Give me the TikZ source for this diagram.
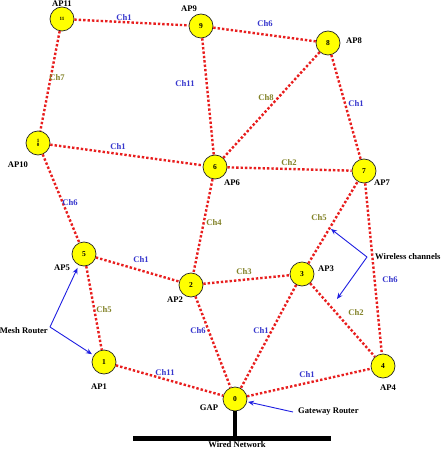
\documentclass[tikz,border=0pt]{standalone}
\usepackage{fontspec}
\setmainfont{Liberation Serif}
\usetikzlibrary{arrows.meta}
\definecolor{lnkred}{RGB}{232,30,30}
\definecolor{chblue}{RGB}{55,55,205}
\definecolor{cholive}{RGB}{130,130,40}
\definecolor{arrblue}{RGB}{30,30,225}
\definecolor{apyellow}{RGB}{255,255,0}
\begin{document}
\begin{tikzpicture}[x=1pt,y=-1pt,
  ap/.style={circle, fill=apyellow, draw=black!85, line width=0.7pt, minimum size=24pt, inner sep=0pt, font=\fontsize{7.5}{7.5}\selectfont\bfseries},
  link/.style={draw=lnkred, line width=2.4pt, dash pattern=on 2.4pt off 2pt},
  lbl/.style={font=\fontsize{8.6}{9}\selectfont\bfseries, inner sep=0pt},
  chb/.style={lbl, text=chblue},
  cho/.style={lbl, text=cholive},
  note/.style={draw=arrblue, line width=0.9pt, -{Stealth[length=6pt,width=5pt]}},
  wire/.style={draw=black, line width=5pt},
]
\useasboundingbox (0,0) rectangle (443,449);

% access points
\node[ap, font=\fontsize{5}{5}\selectfont\bfseries] (n11) at (62,19) {11};
\node[ap] (n9) at (201,26) {9};
\node[ap] (n8) at (328,43) {8};
\node[ap, font=\fontsize{5}{5}\selectfont\bfseries, align=center] (n10) at (38,143) {1\\[-1pt]0};
\node[ap] (n6) at (215,167) {6};
\node[ap] (n7) at (364,171) {7};
\node[ap] (n5) at (84,254) {5};
\node[ap] (n2) at (191,285) {2};
\node[ap] (n3) at (302,274) {3};
\node[ap] (n1) at (104,362) {1};
\node[ap] (n4) at (383,366) {4};
\node[ap] (n0) at (235,399) {0};

% links
\draw[link] (n11) -- (n9);
\draw[link] (n11) -- (n10);
\draw[link] (n10) -- (n6);
\draw[link] (n10) -- (n5);
\draw[link] (n9) -- (n6);
\draw[link] (n9) -- (n8);
\draw[link] (n8) -- (n6);
\draw[link] (n8) -- (n7);
\draw[link] (n6) -- (n7);
\draw[link] (n6) -- (n2);
\draw[link] (n5) -- (n2);
\draw[link] (n5) -- (n1);
\draw[link] (n2) -- (n3);
\draw[link] (n2) -- (n0);
\draw[link] (n1) -- (n0);
\draw[link] (n3) -- (n7);
\draw[link] (n3) -- (n4);
\draw[link] (n3) -- (n0);
\draw[link] (n7) -- (n4);
\draw[link] (n0) -- (n4);

% AP labels
\node[lbl] (l11) at (62,4) {AP11};
\node[lbl] (l9) at (189,9) {AP9};
\node[lbl] (l8) at (354,41) {AP8};
\node[lbl] (l10) at (18,165) {AP10};
\node[lbl] (l6) at (232,183) {AP6};
\node[lbl] (l7) at (382,183) {AP7};
\node[lbl] (l5) at (62,268) {AP5};
\node[lbl] (l2) at (175,300) {AP2};
\node[lbl] (l3) at (326,269) {AP3};
\node[lbl] (l1) at (99,387) {AP1};
\node[lbl] (l4) at (388,388) {AP4};
\node[lbl] (l0) at (209,408) {GAP};

% channel labels
\node[chb] (c1) at (124,18) {Ch1};
\node[chb] (c2) at (265,24) {Ch6};
\node[cho] (c3) at (57,78) {Ch7};
\node[chb] (c4) at (185,84) {Ch11};
\node[cho] (c5) at (266,98) {Ch8};
\node[chb] (c6) at (356,104) {Ch1};
\node[chb] (c7) at (118,147) {Ch1};
\node[cho] (c8) at (289,163) {Ch2};
\node[chb] (c9) at (70,203) {Ch6};
\node[cho] (c10) at (214,223) {Ch4};
\node[cho] (c11) at (319,218) {Ch5};
\node[chb] (c12) at (141,260) {Ch1};
\node[cho] (c13) at (244,272) {Ch3};
\node[chb] (c14) at (390,280) {Ch6};
\node[cho] (c15) at (104,310) {Ch5};
\node[cho] (c16) at (356,313) {Ch2};
\node[chb] (c17) at (198,331) {Ch6};
\node[chb] (c18) at (261,331) {Ch1};
\node[chb] (c19) at (165,373) {Ch11};
\node[chb] (c20) at (307,375) {Ch1};

% annotations
\node[lbl, anchor=east] (mesh) at (48,331) {Mesh Router};
\coordinate (mt) at (50,327);
\draw[note, shorten >=3pt] (mt) -- (n5);
\draw[note, shorten >=2pt] (mt) -- (n1);

\node[lbl, anchor=west] (wch) at (375,257) {Wireless channels};
\coordinate (wt) at (367,257);
\coordinate (wa) at (331,229);
\coordinate (wb) at (337,299);
\draw[note] (wt) -- (wa);
\draw[note] (wt) -- (wb);

\node[lbl, anchor=west] (gw) at (298,412) {Gateway Router};
\coordinate (gt) at (293,412);
\draw[note, shorten >=1pt] (gt) -- (n0);

% wired network
\coordinate (wl) at (133,438);
\coordinate (wr) at (331,438);
\coordinate (wm) at (235,438);
\draw[wire] (wl) -- (wr);
\draw[draw=black, line width=4pt] (n0.south) -- (wm);
\node[lbl] (wn) at (237,445) {Wired Network};
\end{tikzpicture}
\end{document}
